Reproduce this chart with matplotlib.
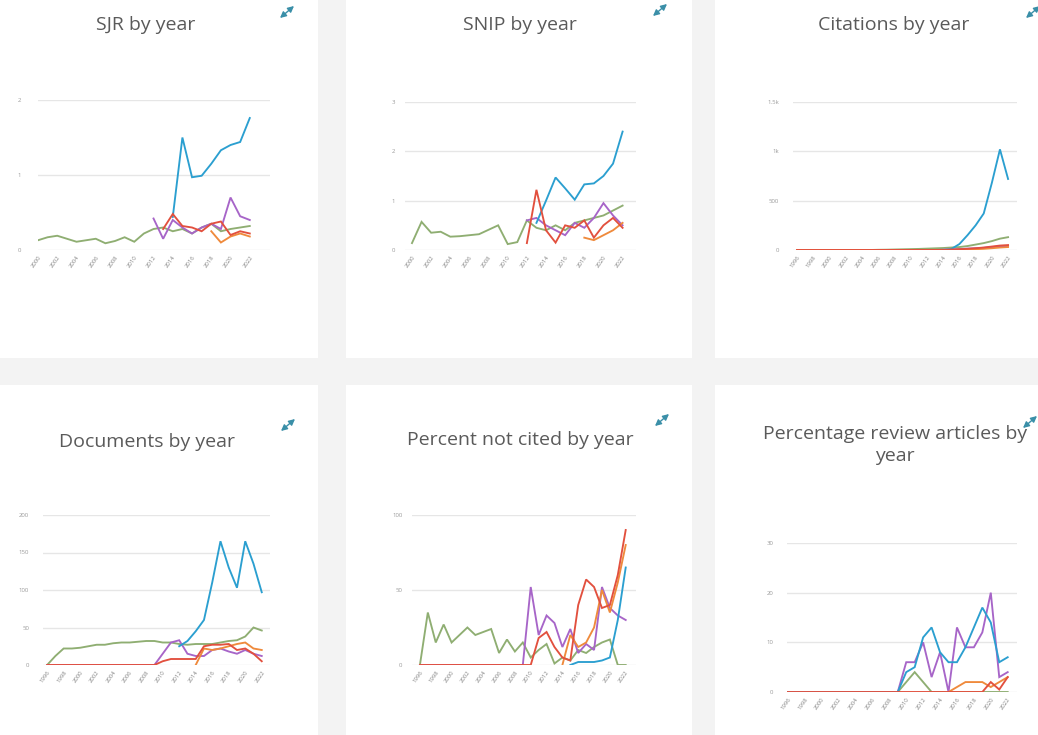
import matplotlib
matplotlib.use('Agg')
import matplotlib.pyplot as plt
import numpy as np
from matplotlib.patches import Rectangle, FancyArrowPatch

W, H = 1038, 735

# ---- data -------------------------------------------------------------
years_a = list(range(2000, 2023))   # SJR, SNIP
years_b = list(range(1996, 2023))   # the other four

sjr_green = [0.13, 0.17, 0.19, 0.15, 0.11, 0.13, 0.15, 0.09, 0.12, 0.17, 0.11, 0.22,
             0.28, 0.30, 0.25, 0.28, 0.22, 0.30, 0.35, 0.25, 0.28, 0.30, 0.32]
sjr_blue = [None]*14 + [0.44, 1.50, 0.97, 0.99, 1.15, 1.33, 1.40, 1.44, 1.76]
sjr_red = [None]*13 + [0.28, 0.48, 0.32, 0.30, 0.25, 0.35, 0.38, 0.20, 0.25, 0.22]
sjr_purple = [None]*12 + [0.42, 0.15, 0.40, 0.30, 0.22, 0.30, 0.35, 0.28, 0.70, 0.45, 0.40]
sjr_orange = [None]*18 + [0.25, 0.10, 0.18, 0.22, 0.18]

snip_green = [0.14, 0.57, 0.35, 0.37, 0.27, 0.28, 0.30, 0.32, 0.41, 0.50, 0.12, 0.16,
              0.60, 0.45, 0.40, 0.50, 0.40, 0.55, 0.60, 0.65, 0.70, 0.80, 0.90]
snip_blue = [None]*13 + [0.55, 1.00, 1.47, 1.25, 1.02, 1.33, 1.35, 1.50, 1.75, 2.40]
snip_red = [None]*12 + [0.14, 1.22, 0.40, 0.15, 0.50, 0.45, 0.60, 0.25, 0.50, 0.65, 0.45]
snip_purple = [None]*12 + [0.60, 0.65, 0.50, 0.40, 0.30, 0.55, 0.45, 0.65, 0.95, 0.70, 0.50]
snip_orange = [None]*18 + [0.25, 0.20, 0.30, 0.40, 0.55]

cit_blue = [None]*18 + [0, 10, 60, 150, 250, 370, 680, 1020, 720]
cit_green = [0]*10 + [2, 3, 5, 7, 9, 11, 14, 17, 20, 25, 30, 40, 55, 70, 90, 115, 130]
cit_red = [0]*19 + [5, 8, 12, 18, 25, 35, 45, 50]
cit_purple = [0]*18 + [3, 6, 10, 14, 18, 22, 30, 35, 40]
cit_orange = [0]*20 + [2, 5, 8, 12, 18, 25, 30]

doc_green = [0, 12, 22, 22, 23, 25, 27, 27, 29, 30, 30, 31, 32, 32, 30, 30, 28, 27,
             28, 28, 28, 30, 32, 33, 38, 50, 46]
doc_blue = [None]*16 + [25, 32, 45, 60, 110, 165, 130, 103, 165, 135, 97]
doc_purple = [0]*13 + [0, 15, 30, 33, 15, 12, 12, 20, 22, 18, 15, 20, 15, 12]
doc_red = [0]*13 + [0, 5, 8, 8, 8, 8, 25, 27, 27, 28, 20, 22, 15, 5]
doc_orange = [None]*18 + [0, 22, 20, 22, 25, 28, 30, 22, 20]

pnc_green = [0, 35, 15, 27, 15, 20, 25, 20, 22, 24, 8, 17, 9, 15, 5, 10, 14, 1, 5, 3,
             10, 8, 12, 15, 17, 0, 0]
pnc_purple = [0]*13 + [0, 52, 20, 33, 28, 12, 24, 8, 14, 10, 52, 38, 33, 30]
pnc_red = [0]*14 + [0, 18, 22, 12, 5, 3, 40, 57, 52, 38, 40, 60, 90]
pnc_orange = [None]*18 + [0, 20, 12, 15, 25, 50, 35, 55, 80]
pnc_blue = [None]*19 + [0, 2, 2, 2, 3, 5, 30, 65]

rev_blue = [0]*13 + [0, 4, 5, 11, 13, 8, 6, 6, 9, 13, 17, 14, 6, 7]
rev_purple = [0]*13 + [0, 6, 6, 10, 3, 8, 0, 13, 9, 9, 12, 20, 3, 4]
rev_green = [0]*13 + [0, 2, 4, 2, 0, 0, 0, 0, 0, 0, 0, 0, 0, 0]
rev_orange = [None]*19 + [0, 1, 2, 2, 2, 1, 2, 3]
rev_red = [0]*22 + [0, 0, 2, 0.5, 3]

titles = ['SJR by year', 'SNIP by year', 'Citations by year',
          'Documents by year', 'Percent not cited by year',
          'Percentage review articles by\nyear']

COLORS = {'green': '#8fae72', 'blue': '#2b9fd0', 'purple': '#a765c8',
          'orange': '#ef8a3c', 'red': '#e2503e'}

plt.rcParams['font.family'] = ['Open Sans', 'DejaVu Sans']

fig = plt.figure(figsize=(W/100, H/100), dpi=100)
fig.patch.set_facecolor('#f3f3f3')


def px_box(l, t, r, b):
    return [l/W, 1 - b/H, (r - l)/W, (b - t)/H]


# white cards behind the charts
for (l, t, r, b) in [(0, 0, 318, 358), (346, 0, 692, 358), (715, 0, 1038, 358),
                     (0, 385, 318, 735), (346, 385, 692, 735), (715, 385, 1038, 735)]:
    fig.patches.append(Rectangle((l/W, 1 - b/H), (r-l)/W, (b-t)/H,
                                 transform=fig.transFigure, facecolor='white',
                                 edgecolor='none', zorder=-10))


def chart(box, years, series, ylim, yticks, ylabels, xlim, ypad):
    ax = fig.add_axes(px_box(*box))
    ax.set_facecolor('none')
    ax.set_zorder(5)
    x = np.array(years, dtype=float)
    for name, vals in series:
        y = np.array([np.nan if v is None else v for v in vals], dtype=float)
        ax.plot(x, y, color=COLORS[name], lw=1.35, solid_joinstyle='miter')
    ax.set_xlim(*xlim)
    ax.set_ylim(*ylim)
    ax.set_yticks(yticks)
    ax.set_yticklabels(ylabels)
    ax.set_xticks(years[::2])
    ax.set_xticklabels([str(v) for v in years[::2]], rotation=55, ha='right',
                       rotation_mode='anchor', fontsize=4.3, color='#858585')
    ax.tick_params(axis='y', length=0, pad=ypad, labelsize=4.3, labelcolor='#9a9a9a')
    ax.tick_params(axis='x', length=0, pad=3)
    ax.grid(axis='y', color='#e6e6e6', lw=1)
    ax.set_axisbelow(True)
    for s in ax.spines.values():
        s.set_visible(False)
    return ax


chart((38, 100, 270, 250), years_a,
      [('green', sjr_green), ('purple', sjr_purple), ('orange', sjr_orange),
       ('blue', sjr_blue), ('red', sjr_red)],
      (0, 2), [0, 1, 2], ['0', '1', '2'], (2000, 2024.1), 12)

chart((405, 102, 636, 250), years_a,
      [('green', snip_green), ('purple', snip_purple), ('orange', snip_orange),
       ('blue', snip_blue), ('red', snip_red)],
      (0, 3), [0, 1, 2, 3], ['0', '1', '2', '3'], (1999.27, 2023.4), 7)

chart((793, 102, 1017, 250), years_b,
      [('green', cit_green), ('purple', cit_purple), ('orange', cit_orange),
       ('blue', cit_blue), ('red', cit_red)],
      (0, 1500), [0, 500, 1000, 1500], ['0', '500', '1k', '1.5k'],
      (1995.5, 2023.1), 10)

chart((43, 515, 270, 665), years_b,
      [('green', doc_green), ('purple', doc_purple), ('orange', doc_orange),
       ('blue', doc_blue), ('red', doc_red)],
      (0, 200), [0, 50, 100, 150, 200], ['0', '50', '100', '150', '200'],
      (1995.5, 2023), 10)

chart((412, 515, 636, 665), years_b,
      [('green', pnc_green), ('purple', pnc_purple), ('orange', pnc_orange),
       ('blue', pnc_blue), ('red', pnc_red)],
      (0, 100), [0, 50, 100], ['0', '50', '100'], (1995.0, 2023.3), 7)

chart((787, 543, 1017, 692), years_b,
      [('green', rev_green), ('purple', rev_purple), ('orange', rev_orange),
       ('blue', rev_blue), ('red', rev_red)],
      (0, 30), [0, 10, 20, 30], ['0', '10', '20', '30'], (1995.9, 2023.1), 10)

# titles
title_pos = [(146, 25), (520, 25), (894, 25), (147, 442), (520, 440), (895, 445)]
for (tx, ty), t in zip(title_pos, titles):
    fig.text(tx/W, 1 - ty/H, t, ha='center', va='center', fontsize=14,
             color='#5a5a5a', linespacing=1.3)

# expand icons (no installed font has the glyph, so drawn as small double arrows)
for (ix, iy) in [(287, 12), (660, 10), (1033, 12), (288, 425), (662, 420), (1030, 422)]:
    arr = FancyArrowPatch(((ix - 7)/W, 1 - (iy + 6)/H), ((ix + 7)/W, 1 - (iy - 6)/H),
                          transform=fig.transFigure,
                          arrowstyle='<|-|>,head_length=0.9,head_width=0.45',
                          color='#3a8fa8', lw=1.0, mutation_scale=4, zorder=6,
                          shrinkA=0, shrinkB=0)
    fig.patches.append(arr)

fig.savefig('out.png', dpi=100, facecolor=fig.get_facecolor())
